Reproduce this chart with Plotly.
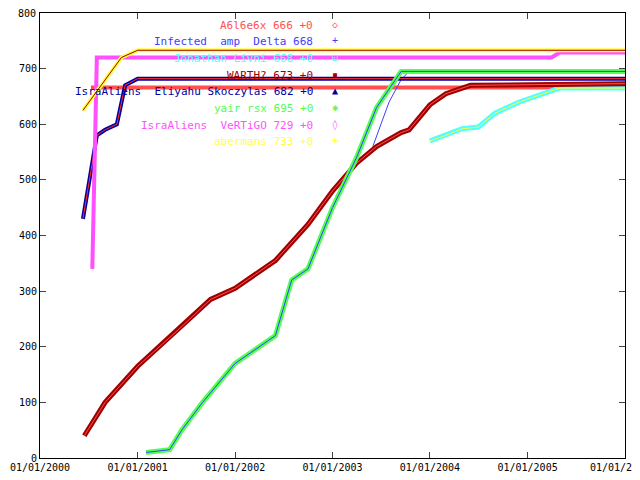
import plotly.graph_objects as go

names = ["A6l6e6x 666 +0", "Infected  amp  Delta 668", "Jonathan Livni 668 +0", "WARTH? 673 +0",
         "IsraAliens  Eliyahu Skoczylas 682 +0", "yair rsx 695 +0", "IsraAliens  VeRTiGO 729 +0", "abermans 733 +0"]
colors = ["#ff5050", "#4040ff", "#50ffff", "#a00000", "#0000a0", "#50ff50", "#ff50ff", "#ffff40"]
syms = ["◇", "+", "⊡", "▪", "▲", "✱", "◊", "+"]

a_x = ["2000-07-10", "2006-01-01"]; a_y = [666, 666]
inf_x = ["2003-06-01", "2003-08-01", "2003-09-15", "2003-10-15", "2006-01-01"]; inf_y = [560, 640, 680, 695, 695]
jl_x = ["2004-01-01", "2004-03-01", "2004-05-01", "2004-07-01", "2004-09-01", "2004-12-01", "2005-03-01", "2005-05-01", "2006-01-01"]
jl_y = [570, 580, 592, 595, 620, 640, 655, 665, 665]
w_x = ["2000-06-15", "2000-09-01", "2001-01-01", "2001-06-01", "2001-10-01", "2002-01-01", "2002-06-01", "2002-10-01",
       "2003-01-01", "2003-04-01", "2003-06-15", "2003-09-15", "2003-10-15", "2004-01-01", "2004-03-01", "2004-06-01", "2006-01-01"]
w_y = [40, 100, 165, 230, 285, 305, 355, 420, 480, 530, 560, 585, 590, 635, 655, 670, 673]
e_x = ["2000-06-10", "2000-07-01", "2000-08-01", "2000-09-01", "2000-10-15", "2000-11-15", "2001-01-01", "2006-01-01"]
e_y = [430, 490, 580, 590, 600, 670, 682, 682]
y_x = ["2001-02-01", "2001-05-01", "2001-06-15", "2001-09-01", "2002-01-01", "2002-06-01", "2002-08-01", "2002-10-01",
       "2003-01-01", "2003-04-01", "2003-06-15", "2003-09-15", "2006-01-01"]
y_y = [10, 15, 50, 100, 170, 220, 320, 340, 450, 540, 630, 695, 695]
v_x = ["2000-07-15", "2000-07-25", "2000-08-01", "2005-04-01", "2005-05-01", "2006-01-01"]
v_y = [340, 600, 720, 720, 729, 729]
ab_x = ["2000-06-10", "2000-08-01", "2000-09-15", "2000-11-01", "2001-01-01", "2006-01-01"]
ab_y = [625, 660, 690, 720, 733, 733]

series = [(a_x, a_y), (inf_x, inf_y), (jl_x, jl_y), (w_x, w_y), (e_x, e_y), (y_x, y_y), (v_x, v_y), (ab_x, ab_y)]
widths = [4, 1, 5, 5, 4, 5, 4, 4]
inner = ["#ff5050", "#4040ff", "#ffff40", "#ff5050", "#ff3030", "#4040ff", "#ff50ff", "#a00000"]

fig = go.Figure()
for (xs, ys), c, w, ic in zip(series, colors, widths, inner):
    fig.add_trace(go.Scatter(x=xs, y=ys, mode="lines", line=dict(color=c, width=w), showlegend=False))
    if w > 1:
        fig.add_trace(go.Scatter(x=xs, y=ys, mode="lines", line=dict(color=ic, width=1), showlegend=False))

for i, (n, c, s) in enumerate(zip(names, colors, syms)):
    fig.add_annotation(xref="paper", yref="paper", x=0.47, y=1.0 - i * 0.0375 - 0.008, xanchor="right", yanchor="top",
                       text=n, showarrow=False, font=dict(color=c, size=11, family="DejaVu Sans Mono"))
    fig.add_annotation(xref="paper", yref="paper", x=0.505, y=1.0 - i * 0.0375 - 0.008, xanchor="center", yanchor="top",
                       text=s, showarrow=False, font=dict(color=c, size=10, family="DejaVu Sans Mono"))

fig.add_annotation(xref="paper", yref="paper", x=1.025, y=0, yanchor="top", xanchor="right", yshift=-2,
                   text="01/01/20", showarrow=False, font=dict(size=10, family="DejaVu Sans Mono"))
fig.add_annotation(xref="paper", yref="y", x=0, y=800, xanchor="right", yanchor="middle", xshift=-2,
                   text="800", showarrow=False, font=dict(size=10, family="DejaVu Sans Mono"))

fig.update_layout(
    width=640, height=480, margin=dict(l=32, r=23, t=5, b=30, autoexpand=False),
    paper_bgcolor="white", plot_bgcolor="white",
    font=dict(family="DejaVu Sans Mono", size=10, color="black"),
    xaxis=dict(type="date", range=["2000-01-01", "2006-01-01"], tickvals=[f"{y}-01-01" for y in range(2000, 2006)],
               ticktext=[f"01/01/{y}" for y in range(2000, 2006)],
               showgrid=False, showline=True, linecolor="black", mirror="ticks", ticks="inside", ticklen=6,
               zeroline=False, automargin=False),
    yaxis=dict(range=[0, 800], tickvals=list(range(0, 701, 100)), showgrid=False, showline=True, linecolor="black",
               mirror="ticks", ticks="inside", ticklen=6, zeroline=False, automargin=False),
)
fig.write_html("out.html")
